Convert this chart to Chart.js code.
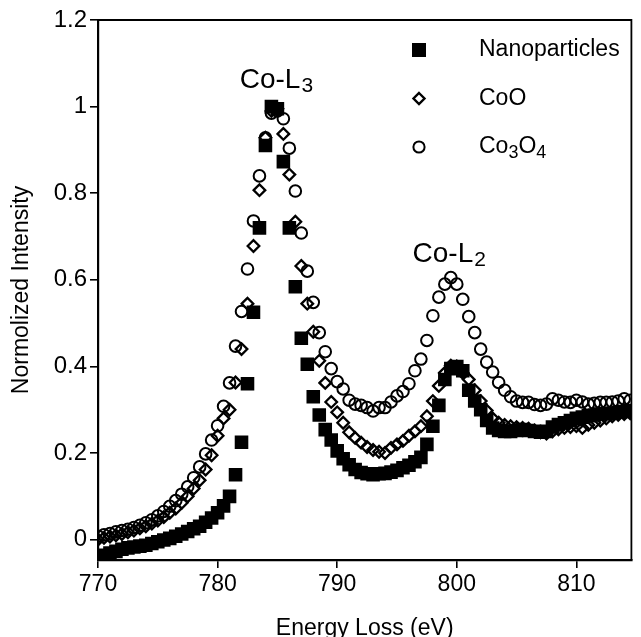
<!DOCTYPE html>
<html>
<head>
<meta charset="utf-8">
<script src="https://cdn.jsdelivr.net/npm/chart.js@4.4.0/dist/chart.umd.min.js"></script>
<style>
  html, body { margin: 0; padding: 0; background: #fff; }
  canvas { display: block; }
</style>
</head>
<body>
<canvas id="graph" width="641" height="637"></canvas>
<script>
// energy loss grid (eV)
const energies = [
  770, 770.5, 771, 771.5, 772, 772.5, 773, 773.5, 774, 774.5,
  775, 775.5, 776, 776.5, 777, 777.5, 778, 778.5, 779, 779.5,
  780, 780.5, 781, 781.5, 782, 782.5, 783, 783.5, 784, 784.5,
  785, 785.5, 786, 786.5, 787, 787.5, 788, 788.5, 789, 789.5,
  790, 790.5, 791, 791.5, 792, 792.5, 793, 793.5, 794, 794.5,
  795, 795.5, 796, 796.5, 797, 797.5, 798, 798.5, 799, 799.5,
  800, 800.5, 801, 801.5, 802, 802.5, 803, 803.5, 804, 804.5,
  805, 805.5, 806, 806.5, 807, 807.5, 808, 808.5, 809, 809.5,
  810, 810.5, 811, 811.5, 812, 812.5, 813, 813.5, 814, 814.5
];

const nanoparticles = [
  -0.042, -0.036, -0.031, -0.027, -0.022, -0.019, -0.017, -0.015, -0.013, -0.009,
  -0.005, -0.001, 0.003, 0.008, 0.013, 0.019, 0.025, 0.031, 0.040, 0.050,
  0.062, 0.078, 0.10, 0.15, 0.225, 0.36, 0.525, 0.72, 0.91, 1.0,
  0.995, 0.873, 0.72, 0.584, 0.465, 0.405, 0.33, 0.288, 0.254, 0.23,
  0.205, 0.187, 0.173, 0.162, 0.155, 0.152, 0.15, 0.152, 0.153, 0.156,
  0.16, 0.166, 0.172, 0.18, 0.19, 0.22, 0.262, 0.31, 0.37, 0.395,
  0.40, 0.39, 0.345, 0.32, 0.30, 0.275, 0.258, 0.252, 0.25, 0.25,
  0.252, 0.254, 0.252, 0.25, 0.248, 0.25, 0.26, 0.266, 0.27, 0.275,
  0.28, 0.283, 0.286, 0.288, 0.29, 0.291, 0.292, 0.294, 0.296, 0.298
];

const coo = [
  0.0, 0.004, 0.007, 0.01, 0.013, 0.017, 0.021, 0.026, 0.031, 0.037,
  0.044, 0.052, 0.062, 0.072, 0.085, 0.10, 0.118, 0.137, 0.162, 0.195,
  0.24, 0.28, 0.30, 0.363, 0.44, 0.545, 0.678, 0.807, 0.928, 0.99,
  0.995, 0.937, 0.843, 0.734, 0.632, 0.545, 0.48, 0.413, 0.362, 0.318,
  0.294, 0.27, 0.248, 0.235, 0.224, 0.214, 0.207, 0.203, 0.20, 0.212,
  0.22, 0.228, 0.24, 0.25, 0.262, 0.285, 0.32, 0.355, 0.385, 0.402,
  0.40, 0.385, 0.37, 0.345, 0.32, 0.298, 0.28, 0.27, 0.265, 0.262,
  0.26, 0.258, 0.256, 0.252, 0.248, 0.245, 0.25, 0.255, 0.258, 0.26,
  0.262, 0.258, 0.265, 0.27, 0.275, 0.28, 0.285, 0.288, 0.29, 0.292
];

const co3o4 = [
  0.008, 0.011, 0.014, 0.018, 0.021, 0.024, 0.028, 0.033, 0.039, 0.046,
  0.055, 0.065, 0.077, 0.09, 0.105, 0.122, 0.143, 0.168, 0.198, 0.23,
  0.263, 0.308, 0.362, 0.447, 0.527, 0.625, 0.736, 0.84, 0.928, 0.985,
  0.99, 0.972, 0.904, 0.805, 0.708, 0.62, 0.548, 0.478, 0.434, 0.395,
  0.365, 0.348, 0.322, 0.313, 0.31, 0.305, 0.297, 0.305, 0.305, 0.318,
  0.332, 0.342, 0.36, 0.39, 0.417, 0.46, 0.517, 0.56, 0.59, 0.605,
  0.59, 0.555, 0.515, 0.478, 0.44, 0.41, 0.387, 0.363, 0.345, 0.33,
  0.32, 0.317, 0.317, 0.312, 0.31, 0.313, 0.325, 0.322, 0.318, 0.317,
  0.322, 0.318, 0.313, 0.315, 0.317, 0.317, 0.318, 0.32, 0.325, 0.322
];

const xTicks = [770, 780, 790, 800, 810];
const yTicks = [0, 0.2, 0.4, 0.6, 0.8, 1, 1.2];
const yTickLabels = ["0", "0.2", "0.4", "0.6", "0.8", "1", "1.2"];

// peak labels, anchored in data units (left edge, baseline)
const peakLabels = [
  { base: "Co-L", sub: "3", x: 781.85, y: 1.042 },
  { base: "Co-L", sub: "2", x: 796.3, y: 0.641 }
];

const FONT = "'Liberation Sans', Arial, Helvetica, sans-serif";

function toPoints(ys) {
  return energies.map((e, i) => ({ x: e, y: ys[i] }));
}

// draws text where digits that follow a letter are set as subscripts
function drawRich(ctx, text, x, y, size) {
  let cx = x;
  for (let i = 0; i < text.length; i++) {
    const ch = text[i];
    const isSub = /[0-9]/.test(ch) && i > 0 && /[A-Za-z]/.test(text[i - 1]);
    const s = isSub ? size * 0.78 : size;
    ctx.font = s + "px " + FONT;
    ctx.fillText(ch, cx, isSub ? y + size * 0.27 : y);
    cx += ctx.measureText(ch).width;
  }
}

function drawMarker(ctx, style, x, y) {
  ctx.save();
  ctx.strokeStyle = "#000";
  ctx.fillStyle = "#000";
  ctx.beginPath();
  if (style === "rect") {
    ctx.rect(x - 7, y - 7, 14, 14);
    ctx.fill();
  } else if (style === "rectRot") {
    ctx.lineWidth = 2.4;
    ctx.moveTo(x, y - 5.5);
    ctx.lineTo(x + 5.5, y);
    ctx.lineTo(x, y + 5.5);
    ctx.lineTo(x - 5.5, y);
    ctx.closePath();
    ctx.stroke();
  } else {
    ctx.lineWidth = 2;
    ctx.arc(x, y, 5.6, 0, Math.PI * 2);
    ctx.stroke();
  }
  ctx.restore();
}

const extras = {
  id: "extras",
  afterDraw(chart) {
    const { ctx, chartArea: a, scales } = chart;
    ctx.save();
    // top and right frame
    ctx.strokeStyle = "#000";
    ctx.lineWidth = 1.8;
    ctx.beginPath();
    ctx.moveTo(a.left, a.top);
    ctx.lineTo(a.right, a.top);
    ctx.lineTo(a.right, a.bottom);
    ctx.stroke();

    ctx.fillStyle = "#000";
    ctx.textBaseline = "alphabetic";
    ctx.textAlign = "left";
    peakLabels.forEach((p) => {
      const px = scales.x.getPixelForValue(p.x);
      const py = scales.y.getPixelForValue(p.y);
      ctx.font = "28px " + FONT;
      ctx.fillText(p.base, px, py);
      const w = ctx.measureText(p.base).width;
      ctx.font = "21px " + FONT;
      ctx.fillText(p.sub, px + w + 1, py + 4);
    });

    // legend
    const lx = a.left + 321;
    const ly = a.top + 30;
    chart.data.datasets.forEach((ds, i) => {
      const y = ly + i * 48.5;
      drawMarker(ctx, ds.pointStyle, lx, y);
      ctx.fillStyle = "#000";
      ctx.textBaseline = "middle";
      drawRich(ctx, ds.label, lx + 60, y, 23);
    });
    ctx.restore();
  }
};

new Chart(document.getElementById("graph"), {
  type: "scatter",
  data: {
    datasets: [
      {
        label: "Nanoparticles",
        data: toPoints(nanoparticles),
        pointStyle: "rect",
        pointRadius: 9.6,
        backgroundColor: "#000",
        borderColor: "#000",
        borderWidth: 0
      },
      {
        label: "CoO",
        data: toPoints(coo),
        pointStyle: "rectRot",
        pointRadius: 5.8,
        backgroundColor: "rgba(0,0,0,0)",
        borderColor: "#000",
        borderWidth: 2.3
      },
      {
        label: "Co3O4",
        data: toPoints(co3o4),
        pointStyle: "circle",
        pointRadius: 5.8,
        backgroundColor: "rgba(0,0,0,0)",
        borderColor: "#000",
        borderWidth: 2
      }
    ]
  },
  options: {
    responsive: false,
    animation: false,
    events: [],
    layout: { padding: { top: 20, right: 4, left: 0, bottom: 0 } },
    plugins: {
      legend: { display: false },
      tooltip: { enabled: false }
    },
    scales: {
      x: {
        type: "linear",
        min: 770,
        max: 814.6,
        afterBuildTicks: (s) => { s.ticks = xTicks.map((v) => ({ value: v })); },
        afterFit: (s) => { s.height = 77; },
        ticks: {
          color: "#000",
          padding: 3,
          maxRotation: 0,
          font: { family: FONT, size: 23 },
          callback: (v) => String(v)
        },
        grid: { drawOnChartArea: false, drawTicks: true, tickLength: 8, color: "#000", lineWidth: 1.6 },
        border: { display: true, color: "#000", width: 2.2 },
        title: {
          display: true,
          text: "Energy Loss (eV)",
          color: "#000",
          font: { family: FONT, size: 23 },
          padding: { top: 0, bottom: -5 }
        }
      },
      y: {
        type: "linear",
        min: -0.047,
        max: 1.2,
        afterBuildTicks: (s) => { s.ticks = yTicks.map((v) => ({ value: v })); },
        afterFit: (s) => { s.width = 98; },
        ticks: {
          color: "#000",
          padding: 3,
          font: { family: FONT, size: 24 },
          callback: (v, i) => yTickLabels[i]
        },
        grid: { drawOnChartArea: false, drawTicks: true, tickLength: 8, color: "#000", lineWidth: 1.6 },
        border: { display: true, color: "#000", width: 2.2 },
        title: {
          display: true,
          text: "Normolized Intensity",
          color: "#000",
          font: { family: FONT, size: 23 },
          padding: { top: 8, bottom: 0 }
        }
      }
    }
  },
  plugins: [extras]
});
</script>
</body>
</html>
